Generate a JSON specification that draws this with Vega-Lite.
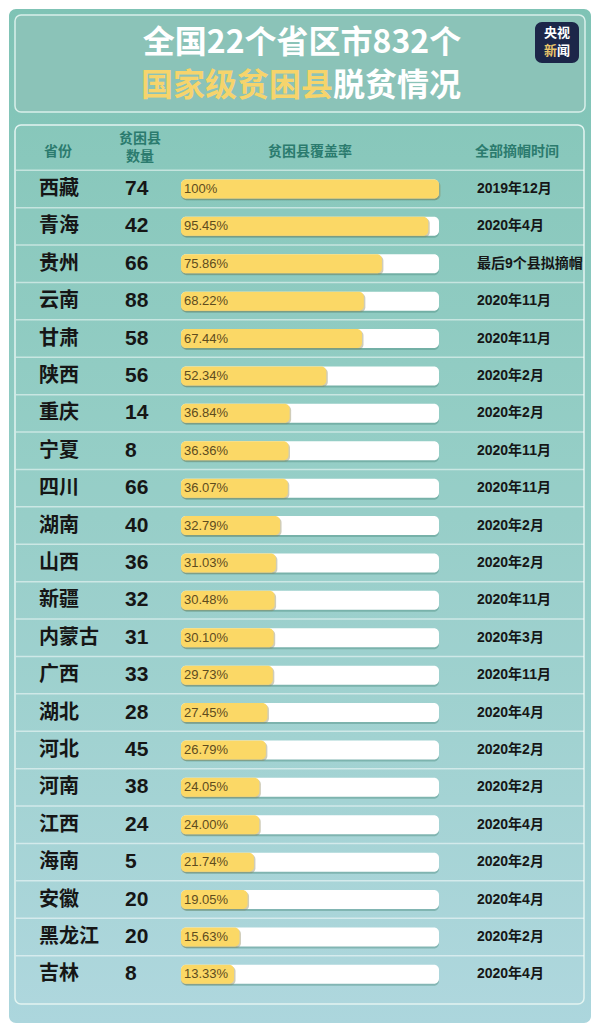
{
  "$schema": "https://vega.github.io/schema/vega-lite/v6.json",
  "width": 600,
  "height": 1035,
  "autosize": {"type": "fit", "contains": "padding"},
  "padding": 0,
  "background": "#ffffff",
  "config": {"view": {"stroke": null}, "axis": {"disable": true}, "legend": {"disable": true}},
  "datasets": {
    "rows": [
      {"province": "西藏", "count": 74, "pct": 100, "pctText": "100%", "date": "2019年12月"},
      {"province": "青海", "count": 42, "pct": 95.45, "pctText": "95.45%", "date": "2020年4月"},
      {"province": "贵州", "count": 66, "pct": 75.86, "pctText": "75.86%", "date": "最后9个县拟摘帽"},
      {"province": "云南", "count": 88, "pct": 68.22, "pctText": "68.22%", "date": "2020年11月"},
      {"province": "甘肃", "count": 58, "pct": 67.44, "pctText": "67.44%", "date": "2020年11月"},
      {"province": "陕西", "count": 56, "pct": 52.34, "pctText": "52.34%", "date": "2020年2月"},
      {"province": "重庆", "count": 14, "pct": 36.84, "pctText": "36.84%", "date": "2020年2月"},
      {"province": "宁夏", "count": 8, "pct": 36.36, "pctText": "36.36%", "date": "2020年11月"},
      {"province": "四川", "count": 66, "pct": 36.07, "pctText": "36.07%", "date": "2020年11月"},
      {"province": "湖南", "count": 40, "pct": 32.79, "pctText": "32.79%", "date": "2020年2月"},
      {"province": "山西", "count": 36, "pct": 31.03, "pctText": "31.03%", "date": "2020年2月"},
      {"province": "新疆", "count": 32, "pct": 30.48, "pctText": "30.48%", "date": "2020年11月"},
      {"province": "内蒙古", "count": 31, "pct": 30.10, "pctText": "30.10%", "date": "2020年3月"},
      {"province": "广西", "count": 33, "pct": 29.73, "pctText": "29.73%", "date": "2020年11月"},
      {"province": "湖北", "count": 28, "pct": 27.45, "pctText": "27.45%", "date": "2020年4月"},
      {"province": "河北", "count": 45, "pct": 26.79, "pctText": "26.79%", "date": "2020年2月"},
      {"province": "河南", "count": 38, "pct": 24.05, "pctText": "24.05%", "date": "2020年2月"},
      {"province": "江西", "count": 24, "pct": 24.00, "pctText": "24.00%", "date": "2020年4月"},
      {"province": "海南", "count": 5, "pct": 21.74, "pctText": "21.74%", "date": "2020年2月"},
      {"province": "安徽", "count": 20, "pct": 19.05, "pctText": "19.05%", "date": "2020年4月"},
      {"province": "黑龙江", "count": 20, "pct": 15.63, "pctText": "15.63%", "date": "2020年2月"},
      {"province": "吉林", "count": 8, "pct": 13.33, "pctText": "13.33%", "date": "2020年4月"}
    ],
    "headers": [
      {"province": "header", "name": "省份", "count": "贫困县\n数量", "bar": "贫困县覆盖率", "date": "全部摘帽时间"}
    ],
    "one": [{}]
  },
  "resolve": {"scale": {"x": "independent", "y": "independent"}},
  "layer": [
    {
      "data": {"name": "one"},
      "mark": {"type": "rect", "cornerRadius": 7, "color": {"gradient": "linear", "x1": 0, "y1": 0, "x2": 0, "y2": 1, "stops": [{"offset": 0, "color": "#7fc3b5"}, {"offset": 0.5, "color": "#93cdc6"}, {"offset": 1, "color": "#acd6dd"}]}},
      "encoding": {
        "x": {"datum": 9, "type": "quantitative", "scale": {"domain": [0, 600], "nice": false, "zero": false}},
        "x2": {"datum": 591},
        "y": {"datum": 9, "type": "quantitative", "scale": {"domain": [0, 1035], "nice": false, "zero": false, "reverse": true}},
        "y2": {"datum": 1023}
      }
    },
    {
      "data": {"name": "one"},
      "mark": {"type": "rect", "cornerRadius": 6, "fill": "#8bc3b8", "stroke": "#d9efea", "strokeWidth": 1.5},
      "encoding": {
        "x": {"datum": 15, "type": "quantitative", "scale": {"domain": [0, 600], "nice": false, "zero": false}},
        "x2": {"datum": 585},
        "y": {"datum": 15, "type": "quantitative", "scale": {"domain": [0, 1035], "nice": false, "zero": false, "reverse": true}},
        "y2": {"datum": 112}
      }
    },
    {
      "data": {"name": "one"},
      "mark": {"type": "rect", "cornerRadius": 6, "fill": "#ffffff", "fillOpacity": 0.04, "stroke": "#e3f4f1", "strokeWidth": 1.5},
      "encoding": {
        "x": {"datum": 15, "type": "quantitative", "scale": {"domain": [0, 600], "nice": false, "zero": false}},
        "x2": {"datum": 584},
        "y": {"datum": 125, "type": "quantitative", "scale": {"domain": [0, 1035], "nice": false, "zero": false, "reverse": true}},
        "y2": {"datum": 1004}
      }
    },
    {
      "data": {"name": "one"},
      "mark": {"type": "rect", "cornerRadius": 7, "fill": "#1c2649"},
      "encoding": {
        "x": {"datum": 535, "type": "quantitative", "scale": {"domain": [0, 600], "nice": false, "zero": false}},
        "x2": {"datum": 579},
        "y": {"datum": 22, "type": "quantitative", "scale": {"domain": [0, 1035], "nice": false, "zero": false, "reverse": true}},
        "y2": {"datum": 63}
      }
    },
    {
      "data": {"name": "one"},
      "mark": {"type": "text", "text": "央视", "font": "Noto Sans CJK SC", "fontWeight": "bold", "fontSize": 13, "color": "#ffffff", "baseline": "middle", "align": "center"},
      "encoding": {
        "x": {"datum": 557, "type": "quantitative", "scale": {"domain": [0, 600], "nice": false, "zero": false}},
        "y": {"datum": 33, "type": "quantitative", "scale": {"domain": [0, 1035], "nice": false, "zero": false, "reverse": true}}
      }
    },
    {
      "data": {"name": "one"},
      "mark": {"type": "text", "text": "新", "font": "Noto Sans CJK SC", "fontWeight": "bold", "fontSize": 13, "color": "#e8c46a", "baseline": "middle", "align": "center"},
      "encoding": {
        "x": {"datum": 550.5, "type": "quantitative", "scale": {"domain": [0, 600], "nice": false, "zero": false}},
        "y": {"datum": 51, "type": "quantitative", "scale": {"domain": [0, 1035], "nice": false, "zero": false, "reverse": true}}
      }
    },
    {
      "data": {"name": "one"},
      "mark": {"type": "text", "text": "闻", "font": "Noto Sans CJK SC", "fontWeight": "bold", "fontSize": 13, "color": "#ffffff", "baseline": "middle", "align": "center"},
      "encoding": {
        "x": {"datum": 563.5, "type": "quantitative", "scale": {"domain": [0, 600], "nice": false, "zero": false}},
        "y": {"datum": 51, "type": "quantitative", "scale": {"domain": [0, 1035], "nice": false, "zero": false, "reverse": true}}
      }
    },
    {
      "data": {"name": "one"},
      "mark": {"type": "text", "text": "全国22个省区市832个", "font": "Noto Sans CJK SC", "fontWeight": "bold", "fontSize": 32, "color": "#ffffff", "baseline": "middle", "align": "center"},
      "encoding": {
        "x": {"datum": 302, "type": "quantitative", "scale": {"domain": [0, 600], "nice": false, "zero": false}},
        "y": {"datum": 43, "type": "quantitative", "scale": {"domain": [0, 1035], "nice": false, "zero": false, "reverse": true}}
      }
    },
    {
      "data": {"name": "one"},
      "mark": {"type": "text", "text": "国家级贫困县", "font": "Noto Sans CJK SC", "fontWeight": "bold", "fontSize": 32, "color": "#f6d46c", "baseline": "middle", "align": "right"},
      "encoding": {
        "x": {"datum": 333, "type": "quantitative", "scale": {"domain": [0, 600], "nice": false, "zero": false}},
        "y": {"datum": 86, "type": "quantitative", "scale": {"domain": [0, 1035], "nice": false, "zero": false, "reverse": true}}
      }
    },
    {
      "data": {"name": "one"},
      "mark": {"type": "text", "text": "脱贫情况", "font": "Noto Sans CJK SC", "fontWeight": "bold", "fontSize": 32, "color": "#ffffff", "baseline": "middle", "align": "left"},
      "encoding": {
        "x": {"datum": 333, "type": "quantitative", "scale": {"domain": [0, 600], "nice": false, "zero": false}},
        "y": {"datum": 86, "type": "quantitative", "scale": {"domain": [0, 1035], "nice": false, "zero": false, "reverse": true}}
      }
    },
    {
      "data": {"name": "rows"},
      "mark": {"type": "rule", "color": "#ffffff", "opacity": 0.5, "strokeWidth": 1.5},
      "encoding": {
        "y": {"field": "province", "type": "nominal", "sort": null, "bandPosition": 0, "scale": {"type": "band", "domain": ["header", "西藏", "青海", "贵州", "云南", "甘肃", "陕西", "重庆", "宁夏", "四川", "湖南", "山西", "新疆", "内蒙古", "广西", "湖北", "河北", "河南", "江西", "海南", "安徽", "黑龙江", "吉林"], "range": [132.85, 993.05], "paddingInner": 0, "paddingOuter": 0}},
        "x": {"datum": -78.9, "type": "quantitative", "scale": {"domain": [-85.63, 168.08], "nice": false, "zero": false}},
        "x2": {"datum": 161.3}
      }
    },
    {
      "data": {"name": "rows"},
      "mark": {"type": "rect", "height": 19, "cornerRadius": 5, "color": "#4f8d83", "opacity": 0.45, "xOffset": 1.5, "yOffset": 2},
      "encoding": {
        "y": {"field": "province", "type": "nominal", "sort": null, "scale": {"type": "band", "domain": ["header", "西藏", "青海", "贵州", "云南", "甘肃", "陕西", "重庆", "宁夏", "四川", "湖南", "山西", "新疆", "内蒙古", "广西", "湖北", "河北", "河南", "江西", "海南", "安徽", "黑龙江", "吉林"], "range": [132.85, 993.05], "paddingInner": 0, "paddingOuter": 0}},
        "x": {"datum": -9.1, "type": "quantitative", "scale": {"domain": [-85.63, 168.08], "nice": false, "zero": false}},
        "x2": {"datum": 100}
      }
    },
    {
      "data": {"name": "rows"},
      "mark": {"type": "rect", "height": 19, "cornerRadius": 5, "color": "#ffffff"},
      "encoding": {
        "y": {"field": "province", "type": "nominal", "sort": null, "scale": {"type": "band", "domain": ["header", "西藏", "青海", "贵州", "云南", "甘肃", "陕西", "重庆", "宁夏", "四川", "湖南", "山西", "新疆", "内蒙古", "广西", "湖北", "河北", "河南", "江西", "海南", "安徽", "黑龙江", "吉林"], "range": [132.85, 993.05], "paddingInner": 0, "paddingOuter": 0}},
        "x": {"datum": -9.1, "type": "quantitative", "scale": {"domain": [-85.63, 168.08], "nice": false, "zero": false}},
        "x2": {"datum": 100}
      }
    },
    {
      "data": {"name": "rows"},
      "mark": {"type": "rect", "height": 19, "cornerRadius": 5, "color": "#8a8150", "opacity": 0.4, "xOffset": 1.5, "yOffset": 1.5},
      "encoding": {
        "y": {"field": "province", "type": "nominal", "sort": null, "scale": {"type": "band", "domain": ["header", "西藏", "青海", "贵州", "云南", "甘肃", "陕西", "重庆", "宁夏", "四川", "湖南", "山西", "新疆", "内蒙古", "广西", "湖北", "河北", "河南", "江西", "海南", "安徽", "黑龙江", "吉林"], "range": [132.85, 993.05], "paddingInner": 0, "paddingOuter": 0}},
        "x": {"field": "pct", "type": "quantitative", "scale": {"domain": [-85.63, 168.08], "nice": false, "zero": false}},
        "x2": {"datum": -9.1}
      }
    },
    {
      "data": {"name": "rows"},
      "mark": {"type": "rect", "height": 19, "cornerRadius": 5, "color": "#fbd866"},
      "encoding": {
        "y": {"field": "province", "type": "nominal", "sort": null, "scale": {"type": "band", "domain": ["header", "西藏", "青海", "贵州", "云南", "甘肃", "陕西", "重庆", "宁夏", "四川", "湖南", "山西", "新疆", "内蒙古", "广西", "湖北", "河北", "河南", "江西", "海南", "安徽", "黑龙江", "吉林"], "range": [132.85, 993.05], "paddingInner": 0, "paddingOuter": 0}},
        "x": {"field": "pct", "type": "quantitative", "scale": {"domain": [-85.63, 168.08], "nice": false, "zero": false}},
        "x2": {"datum": -9.1}
      }
    },
    {
      "data": {"name": "rows"},
      "mark": {"type": "text", "align": "left", "baseline": "middle", "dx": 3, "font": "Liberation Sans", "fontSize": 13, "color": "#5e4c1e"},
      "encoding": {
        "y": {"field": "province", "type": "nominal", "sort": null, "bandPosition": 0.5, "scale": {"type": "band", "domain": ["header", "西藏", "青海", "贵州", "云南", "甘肃", "陕西", "重庆", "宁夏", "四川", "湖南", "山西", "新疆", "内蒙古", "广西", "湖北", "河北", "河南", "江西", "海南", "安徽", "黑龙江", "吉林"], "range": [132.85, 993.05], "paddingInner": 0, "paddingOuter": 0}},
        "x": {"datum": -9.1, "type": "quantitative", "scale": {"domain": [-85.63, 168.08], "nice": false, "zero": false}},
        "text": {"field": "pctText", "type": "nominal"}
      }
    },
    {
      "data": {"name": "rows"},
      "mark": {"type": "text", "align": "left", "baseline": "middle", "font": "Noto Sans CJK SC", "fontWeight": "bold", "fontSize": 20, "color": "#161616"},
      "encoding": {
        "y": {"field": "province", "type": "nominal", "sort": null, "bandPosition": 0.5, "scale": {"type": "band", "domain": ["header", "西藏", "青海", "贵州", "云南", "甘肃", "陕西", "重庆", "宁夏", "四川", "湖南", "山西", "新疆", "内蒙古", "广西", "湖北", "河北", "河南", "江西", "海南", "安徽", "黑龙江", "吉林"], "range": [132.85, 993.05], "paddingInner": 0, "paddingOuter": 0}},
        "x": {"datum": -69.14, "type": "quantitative", "scale": {"domain": [-85.63, 168.08], "nice": false, "zero": false}},
        "text": {"field": "province", "type": "nominal"}
      }
    },
    {
      "data": {"name": "rows"},
      "mark": {"type": "text", "align": "left", "baseline": "middle", "font": "Liberation Sans", "fontWeight": "bold", "fontSize": 21, "color": "#161616"},
      "encoding": {
        "y": {"field": "province", "type": "nominal", "sort": null, "bandPosition": 0.5, "scale": {"type": "band", "domain": ["header", "西藏", "青海", "贵州", "云南", "甘肃", "陕西", "重庆", "宁夏", "四川", "湖南", "山西", "新疆", "内蒙古", "广西", "湖北", "河北", "河南", "江西", "海南", "安徽", "黑龙江", "吉林"], "range": [132.85, 993.05], "paddingInner": 0, "paddingOuter": 0}},
        "x": {"datum": -32.78, "type": "quantitative", "scale": {"domain": [-85.63, 168.08], "nice": false, "zero": false}},
        "text": {"field": "count", "type": "nominal"}
      }
    },
    {
      "data": {"name": "rows"},
      "mark": {"type": "text", "align": "left", "baseline": "middle", "font": "Liberation Sans, Noto Sans CJK SC", "fontWeight": "bold", "fontSize": 14, "color": "#161616"},
      "encoding": {
        "y": {"field": "province", "type": "nominal", "sort": null, "bandPosition": 0.5, "scale": {"type": "band", "domain": ["header", "西藏", "青海", "贵州", "云南", "甘肃", "陕西", "重庆", "宁夏", "四川", "湖南", "山西", "新疆", "内蒙古", "广西", "湖北", "河北", "河南", "江西", "海南", "安徽", "黑龙江", "吉林"], "range": [132.85, 993.05], "paddingInner": 0, "paddingOuter": 0}},
        "x": {"datum": 116.06, "type": "quantitative", "scale": {"domain": [-85.63, 168.08], "nice": false, "zero": false}},
        "text": {"field": "date", "type": "nominal"}
      }
    },
    {
      "data": {"name": "headers"},
      "mark": {"type": "text", "align": "center", "baseline": "middle", "font": "Noto Sans CJK SC", "fontWeight": "bold", "fontSize": 14, "color": "#2b7b6e"},
      "encoding": {
        "y": {"field": "province", "type": "nominal", "sort": null, "bandPosition": 0.5, "scale": {"type": "band", "domain": ["header", "西藏", "青海", "贵州", "云南", "甘肃", "陕西", "重庆", "宁夏", "四川", "湖南", "山西", "新疆", "内蒙古", "广西", "湖北", "河北", "河南", "江西", "海南", "安徽", "黑龙江", "吉林"], "range": [132.85, 993.05], "paddingInner": 0, "paddingOuter": 0}},
        "x": {"datum": -61.1, "type": "quantitative", "scale": {"domain": [-85.63, 168.08], "nice": false, "zero": false}},
        "text": {"field": "name", "type": "nominal"}
      }
    },
    {
      "data": {"name": "headers"},
      "mark": {"type": "text", "align": "center", "baseline": "middle", "lineBreak": "\n", "lineHeight": 18, "dy": -13, "font": "Noto Sans CJK SC", "fontWeight": "bold", "fontSize": 14, "color": "#2b7b6e"},
      "encoding": {
        "y": {"field": "province", "type": "nominal", "sort": null, "bandPosition": 0.5, "scale": {"type": "band", "domain": ["header", "西藏", "青海", "贵州", "云南", "甘肃", "陕西", "重庆", "宁夏", "四川", "湖南", "山西", "新疆", "内蒙古", "广西", "湖北", "河北", "河南", "江西", "海南", "安徽", "黑龙江", "吉林"], "range": [132.85, 993.05], "paddingInner": 0, "paddingOuter": 0}},
        "x": {"datum": -26.43, "type": "quantitative", "scale": {"domain": [-85.63, 168.08], "nice": false, "zero": false}},
        "text": {"field": "count", "type": "nominal"}
      }
    },
    {
      "data": {"name": "headers"},
      "mark": {"type": "text", "align": "center", "baseline": "middle", "font": "Noto Sans CJK SC", "fontWeight": "bold", "fontSize": 14, "color": "#2b7b6e"},
      "encoding": {
        "y": {"field": "province", "type": "nominal", "sort": null, "bandPosition": 0.5, "scale": {"type": "band", "domain": ["header", "西藏", "青海", "贵州", "云南", "甘肃", "陕西", "重庆", "宁夏", "四川", "湖南", "山西", "新疆", "内蒙古", "广西", "湖北", "河北", "河南", "江西", "海南", "安徽", "黑龙江", "吉林"], "range": [132.85, 993.05], "paddingInner": 0, "paddingOuter": 0}},
        "x": {"datum": 45.45, "type": "quantitative", "scale": {"domain": [-85.63, 168.08], "nice": false, "zero": false}},
        "text": {"field": "bar", "type": "nominal"}
      }
    },
    {
      "data": {"name": "headers"},
      "mark": {"type": "text", "align": "center", "baseline": "middle", "font": "Noto Sans CJK SC", "fontWeight": "bold", "fontSize": 14, "color": "#2b7b6e"},
      "encoding": {
        "y": {"field": "province", "type": "nominal", "sort": null, "bandPosition": 0.5, "scale": {"type": "band", "domain": ["header", "西藏", "青海", "贵州", "云南", "甘肃", "陕西", "重庆", "宁夏", "四川", "湖南", "山西", "新疆", "内蒙古", "广西", "湖北", "河北", "河南", "江西", "海南", "安徽", "黑龙江", "吉林"], "range": [132.85, 993.05], "paddingInner": 0, "paddingOuter": 0}},
        "x": {"datum": 132.97, "type": "quantitative", "scale": {"domain": [-85.63, 168.08], "nice": false, "zero": false}},
        "text": {"field": "date", "type": "nominal"}
      }
    }
  ]
}
